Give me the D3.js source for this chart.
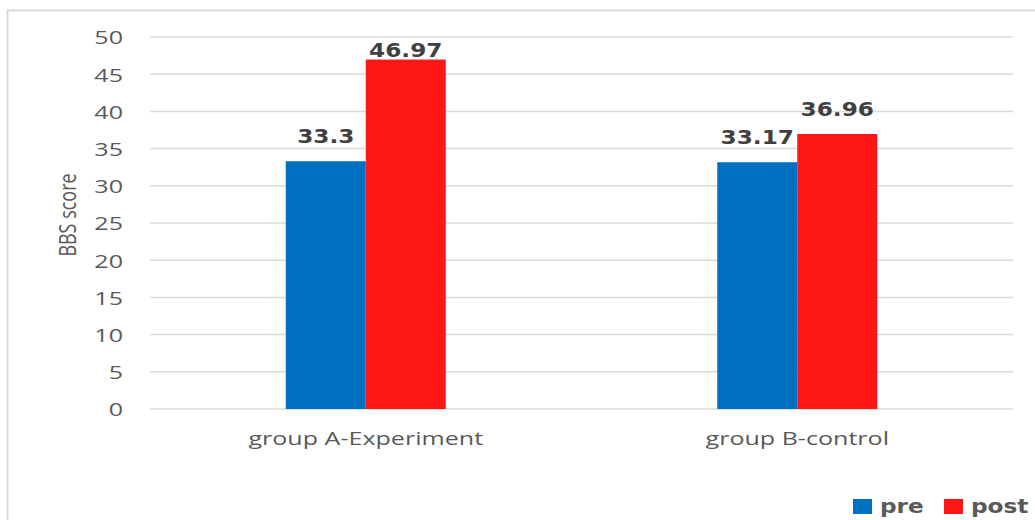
<!DOCTYPE html>
<html>
<head>
<meta charset="utf-8">
<script src="https://cdn.jsdelivr.net/npm/d3@7"></script>
<style>
  body { margin: 0; background: #fff; }
  svg { display: block; }
</style>
</head>
<body>
<div id="chart"></div>
<script>
const categories = ['group A-Experiment', 'group B-control'];
const seriesNames = ['pre', 'post'];
const preValues = [33.3, 33.17];
const postValues = [46.97, 36.96];
const valueLabels = [['33.3', '46.97'], ['33.17', '36.96']];
const yTicks = [0, 5, 10, 15, 20, 25, 30, 35, 40, 45, 50];
const colors = { pre: '#0070c0', post: '#ff1616' };

const W = 1035, H = 520;
const margin = { top: 37, right: 22, bottom: 111, left: 150 };
const width = W - margin.left - margin.right;
const height = H - margin.top - margin.bottom;

// the source picture is stretched sideways, so text gets a horizontal scale
const axisStretch = 1.32;
const boldStretch = 1.16;
const axisFont = '"Open Sans", sans-serif';
const boldFont = '"DejaVu Sans", Verdana, sans-serif';

const svg = d3.select('#chart').append('svg')
    .attr('width', W)
    .attr('height', H);

// chart area border
svg.append('rect')
    .attr('x', 7.5).attr('y', 10.5)
    .attr('width', 1040).attr('height', 530)
    .attr('fill', 'none')
    .attr('stroke', '#d9d9d9')
    .attr('stroke-width', 2);

const g = svg.append('g')
    .attr('transform', `translate(${margin.left},${margin.top})`);

const x0 = d3.scaleBand().domain(categories).range([0, width]).padding(0);
const x1 = d3.scaleBand().domain(seriesNames)
    .range([x0.bandwidth() / 2 - 80, x0.bandwidth() / 2 + 80]).padding(0);
const y = d3.scaleLinear().domain([0, 50]).range([height, 0]);

// gridlines
g.append('g')
    .selectAll('line')
    .data(yTicks)
    .join('line')
    .attr('x1', 0).attr('x2', width)
    .attr('y1', d => y(d)).attr('y2', d => y(d))
    .attr('stroke', '#d9d9d9')
    .attr('stroke-width', 1.5);

// y axis labels
const yAxis = g.append('g')
    .call(d3.axisLeft(y).tickValues(yTicks).tickSize(0));
yAxis.select('.domain').remove();
yAxis.selectAll('text')
    .attr('x', 0)
    .attr('dy', '0.36em')
    .attr('transform', `translate(-27,0) scale(${axisStretch},1)`)
    .attr('fill', '#595959')
    .style('font-family', axisFont)
    .style('font-size', '19px');

// x axis labels
const xAxis = g.append('g')
    .attr('transform', `translate(0,${height})`)
    .call(d3.axisBottom(x0).tickSize(0));
xAxis.select('.domain').remove();
xAxis.selectAll('text')
    .attr('y', 0)
    .attr('dy', 0)
    .attr('transform', `translate(0,36) scale(${axisStretch},1)`)
    .attr('fill', '#595959')
    .style('font-family', axisFont)
    .style('font-size', '19px');

// y axis title
svg.append('text')
    .attr('transform', `translate(76,215) rotate(-90) scale(1,${axisStretch})`)
    .attr('text-anchor', 'middle')
    .attr('fill', '#595959')
    .style('font-family', axisFont)
    .style('font-size', '18px')
    .text('BBS score');

const data = categories.map((c, i) => ({
    category: c,
    values: [
        { key: 'pre', value: preValues[i], label: valueLabels[i][0] },
        { key: 'post', value: postValues[i], label: valueLabels[i][1] }
    ]
}));

const groups = g.selectAll('.group')
    .data(data)
    .join('g')
    .attr('class', 'group')
    .attr('transform', d => `translate(${x0(d.category)},0)`);

groups.selectAll('rect')
    .data(d => d.values)
    .join('rect')
    .attr('x', d => x1(d.key))
    .attr('y', d => y(d.value))
    .attr('width', x1.bandwidth())
    .attr('height', d => height - y(d.value))
    .attr('fill', d => colors[d.key]);

// data labels sit above the bar, kept inside the plot top
groups.selectAll('.val')
    .data(d => d.values)
    .join('text')
    .attr('class', 'val')
    .attr('transform', d => {
        const lx = x1(d.key) + x1.bandwidth() / 2;
        const ly = Math.max(y(d.value) - 18, y(50) + 20);
        return `translate(${lx},${ly}) scale(${boldStretch},1)`;
    })
    .attr('text-anchor', 'middle')
    .attr('fill', '#404040')
    .style('font-family', boldFont)
    .style('font-weight', 'bold')
    .style('font-size', '20px')
    .text(d => d.label);

// legend
const legend = svg.append('g').attr('transform', 'translate(853,499)');
const legendX = [0, 91];
seriesNames.forEach((s, i) => {
    const item = legend.append('g').attr('transform', `translate(${legendX[i]},0)`);
    item.append('rect')
        .attr('width', 19).attr('height', 15)
        .attr('fill', colors[s]);
    item.append('text')
        .attr('transform', `translate(27,14) scale(${boldStretch},1)`)
        .attr('fill', '#595959')
        .style('font-family', boldFont)
        .style('font-weight', 'bold')
        .style('font-size', '20px')
        .text(s);
});
</script>
</body>
</html>
